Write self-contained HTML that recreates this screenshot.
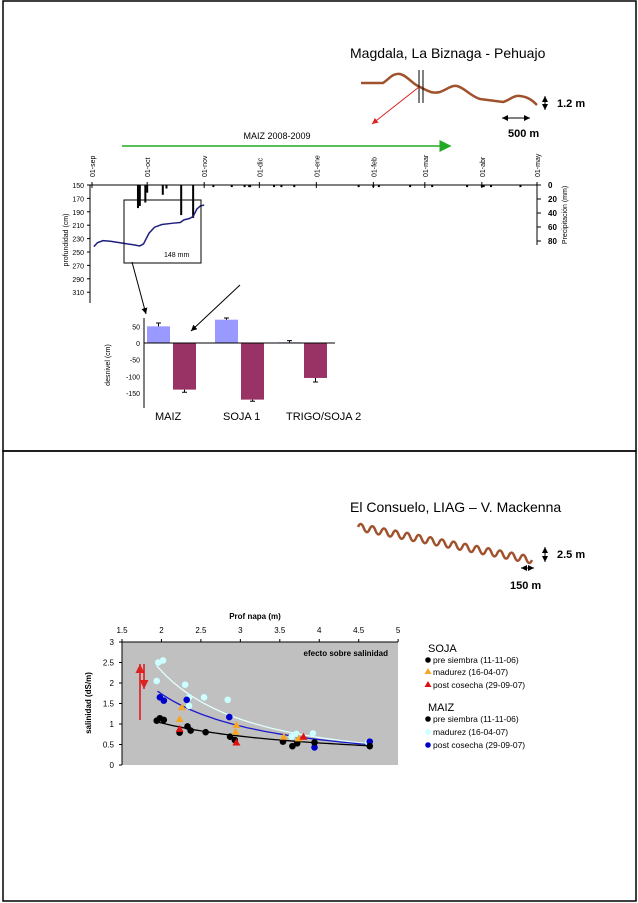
<!DOCTYPE html>
<html><head><meta charset="utf-8"><style>
body{margin:0;background:#fff}
svg{display:block;font-family:"Liberation Sans",sans-serif}
</style></head><body>
<svg id="s" width="638" height="903" viewBox="0 0 638 903">
<defs>
<marker id="ab" markerWidth="8" markerHeight="8" refX="6" refY="3" orient="auto-start-reverse"><path d="M0,0 L6,3 L0,6 z" fill="#000"/></marker>
<marker id="ar" markerWidth="8" markerHeight="8" refX="6" refY="3" orient="auto-start-reverse"><path d="M0,0 L6,3 L0,6 z" fill="#d22"/></marker>
<marker id="ag" markerWidth="10" markerHeight="10" refX="7" refY="4" orient="auto"><path d="M0,0 L8,4 L0,8 z" fill="#2a2"/></marker>
</defs>
<rect x="3" y="1" width="633" height="450" fill="none" stroke="#000" stroke-width="1.5"/>
<rect x="3" y="451" width="633" height="450" fill="none" stroke="#000" stroke-width="1.5"/>

<text x="350" y="58" font-size="14">Magdala, La Biznaga - Pehuajo</text>
<path d="M361,83 L383,83 C390,78 393,73 400,74 C408,76 412,84 420,87 C428,91 432,94 440,92 C448,89 451,85 457,86 C465,88 470,96 480,99 L503,102 C510,100 514,95 520,96 C528,97 532,100 537,105" fill="none" stroke="#a0522d" stroke-width="2.5"/>
<line x1="419" y1="70" x2="419" y2="103" stroke="#000"/>
<line x1="423" y1="70" x2="423" y2="103" stroke="#000"/>
<line x1="419" y1="87" x2="372" y2="124" stroke="#d22" marker-end="url(#ar)"/>
<line x1="545" y1="96" x2="545" y2="110" stroke="#000" marker-end="url(#ab)" marker-start="url(#ab)"/>
<text x="557" y="107" font-size="11" font-weight="bold">1.2 m</text>
<line x1="502" y1="118" x2="530" y2="118" stroke="#000" marker-end="url(#ab)" marker-start="url(#ab)"/>
<text x="508" y="137" font-size="11" font-weight="bold">500 m</text>

<line x1="122" y1="146" x2="450" y2="146" stroke="#2a2" stroke-width="1.5" marker-end="url(#ag)"/>
<text x="277" y="139" font-size="9" text-anchor="middle">MAIZ 2008-2009</text>

<g id="topchart"></g>
<g id="bar"></g>

<text x="350" y="512" font-size="14">El Consuelo, LIAG – V. Mackenna</text>
<path id="zig" fill="none" stroke="#a0522d" stroke-width="2.5"/>
<line x1="545" y1="547" x2="545" y2="562" stroke="#000" marker-end="url(#ab)" marker-start="url(#ab)"/>
<text x="557" y="558" font-size="11" font-weight="bold">2.5 m</text>
<line x1="521" y1="568" x2="534" y2="568" stroke="#000" marker-end="url(#ab)" marker-start="url(#ab)"/>
<text x="510" y="589" font-size="11" font-weight="bold">150 m</text>

<g id="sc"></g>
</svg>
<script>
const NS='http://www.w3.org/2000/svg';
function mk(p,t,a,txt){const e=document.createElementNS(NS,t);for(const k in a)e.setAttribute(k,a[k]);if(txt!==undefined)e.textContent=txt;p.appendChild(e);return e;}

const months=['01-sep','01-oct','01-nov','01-dic','01-ene','01-feb','01-mar','01-abr','01-may'];
const monthDays=[0,30,61,91,122,153,181,212,242];
const depthTicks=[150,170,190,210,230,250,270,290,310];
const precipTicks=[0,20,40,60,80];
const rainDays=[25,26,29,30,38.5,40.5,48.5,55,66,76,83,85.5,86,99,103,110,145,153,156,173,185,204,212,213,217,233];
const rainMm=[33,30,25,11,14,5,43,47,3,3,3,3,3,3,3,3,3,3,3,3,3,3,3,3,3,3];
const wtDays=[1,3,6,10,17,22,26,28,31,34,38,44,48,50,53,55,57,59,61];
const wtDepth=[242,236,233,234,237,239,241,238,222,213,209,207,206,202,200,197,186,181,180];

const topG=document.getElementById('topchart');
const dx=d=>92+d*(537-92)/242;
const dy=c=>185+(c-150)*0.67;
const py=m=>185+m*0.7;
let e;
e=mk(topG,'line',{x1:90,y1:185,x2:90,y2:303,stroke:'#000'});

depthTicks.forEach(t=>{e=mk(topG,'text',{x:84,y:dy(t)+3,'font-size':7,'text-anchor':'end'},t);

mk(topG,'line',{x1:87,y1:dy(t),x2:90,y2:dy(t),stroke:'#000'});});
e=mk(topG,'line',{x1:90,y1:185,x2:537,y2:185,stroke:'#000'});

months.forEach((m,i)=>{const x=dx(monthDays[i]);
mk(topG,'line',{x1:x,y1:182,x2:x,y2:188,stroke:'#000'});
e=mk(topG,'text',{x:0,y:0,'font-size':7,transform:`translate(${x+3},177) rotate(-90)`},m);
});
e=mk(topG,'line',{x1:537,y1:185,x2:537,y2:245,stroke:'#000'});

precipTicks.forEach(t=>{mk(topG,'line',{x1:537,y1:py(t),x2:541,y2:py(t),stroke:'#000'});
e=mk(topG,'text',{x:548,y:py(t)+3,'font-size':8,'font-weight':'bold'},t);
});
e=mk(topG,'text',{x:0,y:0,'font-size':7,'text-anchor':'middle',transform:'translate(68,240) rotate(-90)'},'profundidad (cm)');

e=mk(topG,'text',{x:0,y:0,'font-size':7,'text-anchor':'middle',transform:'translate(567,215) rotate(-90)'},'Precipitación (mm)');

rainDays.forEach((d,i)=>{e=mk(topG,'rect',{x:dx(d)-1,y:185,width:2,height:rainMm[i]*0.7,fill:'#000'});
});
e=mk(topG,'polyline',{points:wtDays.map((d,i)=>dx(d)+','+dy(wtDepth[i])).join(' '),fill:'none',stroke:'#1f1f80','stroke-width':1.5});

e=mk(topG,'rect',{x:124,y:200,width:77,height:63,fill:'none',stroke:'#000'});

e=mk(topG,'text',{x:164,y:257,'font-size':7},'148 mm');

e=mk(topG,'line',{x1:132,y1:262,x2:146,y2:314,stroke:'#000','marker-end':'url(#ab)'});

e=mk(topG,'line',{x1:240,y1:285,x2:191,y2:331,stroke:'#000','marker-end':'url(#ab)'});


const barCats=['MAIZ','SOJA 1','TRIGO/SOJA 2'];
const riseVals=[50,70,2];
const riseErr=[10,5,5];
const dropVals=[-140,-170,-105];
const dropErr=[8,5,12];
const barTicks=[50,0,-50,-100,-150];
const bar=document.getElementById('bar');
const by=v=>343-v*0.333;
const groupX=[147,215,278];
e=mk(bar,'line',{x1:144,y1:318,x2:144,y2:408,stroke:'#000'});

barTicks.forEach(t=>{e=mk(bar,'text',{x:140,y:by(t)+3,'font-size':7,'text-anchor':'end'},t);
});
e=mk(bar,'text',{x:0,y:0,'font-size':7,'text-anchor':'middle',transform:'translate(110,365) rotate(-90)'},'desnivel (cm)');

barCats.forEach((c,i)=>{const gx=groupX[i];
 let v=riseVals[i];
 e=mk(bar,'rect',{x:gx,y:Math.min(by(v),by(0)),width:23,height:Math.abs(by(v)-by(0)),fill:'#9999ff'});
 
 mk(bar,'path',{d:`M${gx+11.5},${by(v)} V${by(v+riseErr[i])} M${gx+9},${by(v+riseErr[i])} H${gx+14}`,stroke:'#000',fill:'none'});
 v=dropVals[i];
 e=mk(bar,'rect',{x:gx+26,y:by(0),width:23,height:by(v)-by(0),fill:'#993366'});
 
 mk(bar,'path',{d:`M${gx+37.5},${by(v)} V${by(v-dropErr[i])} M${gx+35},${by(v-dropErr[i])} H${gx+40}`,stroke:'#000',fill:'none'});
 e=mk(bar,'text',{x:gx+8,y:420,'font-size':11},c);
 
});
e=mk(bar,'line',{x1:144,y1:343,x2:335,y2:343,stroke:'#000'});


(function(){const n=15,x0=358,x1=532,y0=527,y1=560;let d=`M${x0},${y0}`;
for(let i=1;i<=n*2;i++){const t=i/(n*2),tp=(i-0.5)/(n*2);const x=x0+(x1-x0)*t,y=y0+(y1-y0)*t;
 const cx=x0+(x1-x0)*tp,cy=y0+(y1-y0)*tp+(i%2?-7:7);d+=` Q${cx.toFixed(1)},${cy.toFixed(1)} ${x.toFixed(1)},${y.toFixed(1)}`;}
document.getElementById('zig').setAttribute('d',d);})();

const xTicks=[1.5,2,2.5,3,3.5,4,4.5,5];
const yTicks=[0,0.5,1,1.5,2,2.5,3];
const preX=[1.94,1.98,2.03,2.23,2.33,2.37,2.56,2.87,2.93,3.54,3.66,3.72,3.94,4.64];
const preY=[1.08,1.14,1.10,0.79,0.94,0.84,0.80,0.69,0.61,0.57,0.46,0.53,0.55,0.46];
const madMX=[1.94,1.96,2.02,2.30,2.35,2.35,2.54,2.84,3.65,3.71,3.92,4.62];
const madMY=[2.05,2.50,2.55,1.96,1.65,1.44,1.65,1.59,0.69,0.76,0.77,0.55];
const postMX=[1.98,2.03,2.32,2.86,3.94,4.64];
const postMY=[1.65,1.57,1.59,1.17,0.43,0.57];
const madSX=[2.23,2.26,2.95,2.94,3.55,3.74];
const madSY=[1.12,1.41,0.98,0.81,0.69,0.65];
const postSX=[2.23,2.95,3.80];
const postSY=[0.88,0.55,0.69];
const sc=document.getElementById('sc');
const sx=v=>122+(v-1.5)*78.9;
const sy=v=>765-v*41;
e=mk(sc,'rect',{x:122,y:642,width:276,height:123,fill:'#c0c0c0'});

mk(sc,'line',{x1:122,y1:642,x2:398,y2:642,stroke:'#000'});
mk(sc,'line',{x1:122,y1:642,x2:122,y2:765,stroke:'#000'});
xTicks.forEach(t=>{mk(sc,'line',{x1:sx(t),y1:639,x2:sx(t),y2:642,stroke:'#000'});
e=mk(sc,'text',{x:sx(t),y:633,'font-size':8,'text-anchor':'middle'},t);
});
yTicks.forEach(t=>{mk(sc,'line',{x1:119,y1:sy(t),x2:122,y2:sy(t),stroke:'#000'});
e=mk(sc,'text',{x:114,y:sy(t)+3,'font-size':8,'text-anchor':'end'},t);
});
e=mk(sc,'text',{x:255,y:619,'font-size':8,'font-weight':'bold','text-anchor':'middle'},'Prof napa (m)');

e=mk(sc,'text',{x:0,y:0,'font-size':8,'font-weight':'bold','text-anchor':'middle',transform:'translate(91,703) rotate(-90)'},'salinidad (dS/m)');

e=mk(sc,'text',{x:388,y:656,'font-size':8,'font-weight':'bold','text-anchor':'end'},'efecto sobre salinidad');

function curve(xa,ya,xb,yb,col,name){const b=Math.log(ya/yb)/Math.log(xa/xb),a=ya/Math.pow(xa,b);let pts=[];
for(let i=0;i<=40;i++){const x=xa+(xb-xa)*i/40;pts.push(sx(x).toFixed(1)+','+sy(a*Math.pow(x,b)).toFixed(1));}
e=mk(sc,'polyline',{points:pts.join(' '),fill:'none',stroke:col,'stroke-width':1.3});
}
curve(1.94,2.42,4.62,0.52,'#e0ffff','trend-madurez');
curve(1.95,1.80,4.62,0.50,'#1a1acc','trend-post-cosecha');
curve(1.95,1.05,4.62,0.47,'#000','trend-pre-siembra');
function dots(X,Y,col,name){X.forEach((x,i)=>{e=mk(sc,'circle',{cx:sx(x),cy:sy(Y[i]),r:3.3,fill:col});
});}
function tris(X,Y,col,name){X.forEach((x,i)=>{const cx=sx(x),cy=sy(Y[i]);
e=mk(sc,'path',{d:`M${cx},${cy-4} L${cx+4},${cy+3} L${cx-4},${cy+3}z`,fill:col});
});}
dots(madMX,madMY,'#ccffff','point-maiz-madurez');
dots(postMX,postMY,'#0000cc','point-maiz-post-cosecha');
dots(preX,preY,'#000','point-pre-siembra');
tris(madSX,madSY,'#f5a623','point-soja-madurez');
tris(postSX,postSY,'#e01010','point-soja-post-cosecha');
e=mk(sc,'line',{x1:140,y1:720,x2:140,y2:664,stroke:'#e01010','stroke-width':1.5,'marker-end':'url(#ar)'});

e=mk(sc,'line',{x1:144,y1:664,x2:144,y2:689,stroke:'#e01010','stroke-width':1.5,'marker-end':'url(#ar)'});

const lg=[['SOJA',648,null],['pre siembra (11-11-06)',663,['c','#000']],['madurez (16-04-07)',675,['t','#f5a623']],['post cosecha (29-09-07)',688,['t','#e01010']],
['MAIZ',707,null],['pre siembra (11-11-06)',722,['c','#000']],['madurez (16-04-07)',735,['c','#ccffff']],['post cosecha (29-09-07)',748,['c','#0000cc']]];
lg.forEach(l=>{if(!l[2]){e=mk(sc,'text',{x:428,y:l[1]+4,'font-size':11},l[0]);return;}
 if(l[2][0]==='c')mk(sc,'circle',{cx:428,cy:l[1]-3,r:2.8,fill:l[2][1]});
 else mk(sc,'path',{d:`M428,${l[1]-7} L431.5,${l[1]-1} L424.5,${l[1]-1}z`,fill:l[2][1]});
 e=mk(sc,'text',{x:433,y:l[1],'font-size':8.5},l[0]);});
</script>
</body></html>
